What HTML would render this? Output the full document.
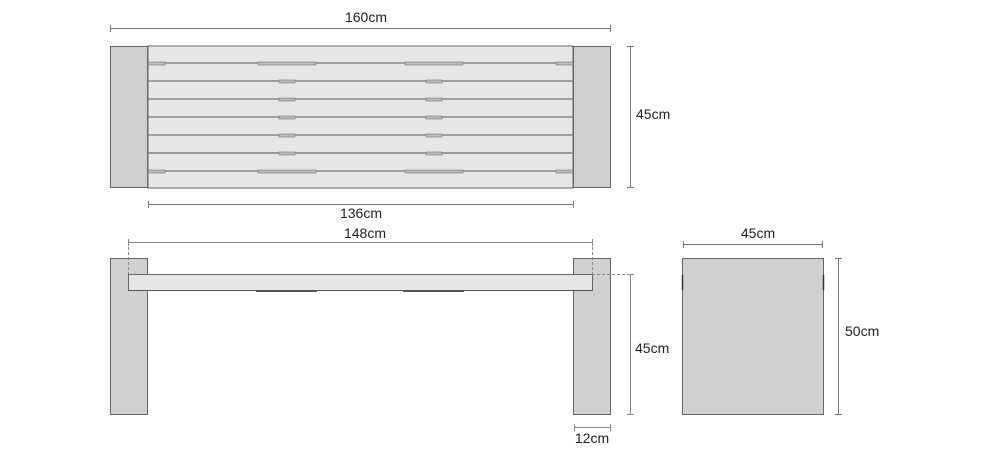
<!DOCTYPE html>
<html><head><style>html,body{margin:0;padding:0;background:#fff;}svg{display:block}</style></head>
<body>
<svg width="990" height="450" viewBox="0 0 990 450" xmlns="http://www.w3.org/2000/svg" font-family="Liberation Sans, Arial, sans-serif" font-size="14" fill="#222">
<!-- TOP VIEW -->
<rect x="148" y="46" width="425" height="142" fill="#e6e6e6" stroke="#666" stroke-width="1"/>
<g stroke="#777" stroke-width="1.2">
<line x1="148" y1="63" x2="573" y2="63"/>
<line x1="148" y1="81" x2="573" y2="81"/>
<line x1="148" y1="99" x2="573" y2="99"/>
<line x1="148" y1="117" x2="573" y2="117"/>
<line x1="148" y1="135" x2="573" y2="135"/>
<line x1="148" y1="153" x2="573" y2="153" stroke="#999" stroke-width="2"/>
<line x1="148" y1="171" x2="573" y2="171"/>
</g>
<g fill="#bbb" stroke="#777" stroke-width="0.6">
<rect x="258" y="62" width="58" height="3"/><rect x="405" y="62" width="58" height="3"/>
<rect x="258" y="170" width="58" height="3"/><rect x="405" y="170" width="58" height="3"/>
<rect x="148" y="62" width="17" height="3"/><rect x="556" y="62" width="17" height="3"/>
<rect x="148" y="170" width="17" height="3"/><rect x="556" y="170" width="17" height="3"/>
<rect x="279" y="80" width="16" height="3"/><rect x="426" y="80" width="16" height="3"/>
<rect x="279" y="98" width="16" height="3"/><rect x="426" y="98" width="16" height="3"/>
<rect x="279" y="116" width="16" height="3"/><rect x="426" y="116" width="16" height="3"/>
<rect x="279" y="134" width="16" height="3"/><rect x="426" y="134" width="16" height="3"/>
<rect x="279" y="152" width="16" height="3"/><rect x="426" y="152" width="16" height="3"/>
</g>
<rect x="110.5" y="46.5" width="37" height="141" fill="#d0d0d0" stroke="#666"/>
<rect x="573.5" y="46.5" width="37" height="141" fill="#d0d0d0" stroke="#666"/>
<!-- dims top -->
<g stroke="#777" stroke-width="1" fill="none">
<line x1="110" y1="28.5" x2="611" y2="28.5"/><line x1="110.5" y1="25" x2="110.5" y2="32"/><line x1="610.5" y1="25" x2="610.5" y2="32"/>
<line x1="630.5" y1="46" x2="630.5" y2="188"/><line x1="627" y1="46.5" x2="634" y2="46.5"/><line x1="627" y1="187.5" x2="634" y2="187.5"/>
<line x1="148" y1="204.5" x2="574" y2="204.5"/><line x1="148.5" y1="201" x2="148.5" y2="208"/><line x1="573.5" y1="201" x2="573.5" y2="208"/>
</g>
<text x="366" y="22" text-anchor="middle">160cm</text>
<text x="636" y="119">45cm</text>
<text x="361" y="218" text-anchor="middle">136cm</text>
<!-- FRONT VIEW -->
<rect x="110.5" y="258.5" width="37" height="156" fill="#d0d0d0" stroke="#666"/>
<rect x="573.5" y="258.5" width="37" height="156" fill="#d0d0d0" stroke="#666"/>
<rect x="128.5" y="274.5" width="464" height="16" fill="#e6e6e6" stroke="#666"/>
<line x1="128" y1="290.5" x2="592" y2="290.5" stroke="#555"/>
<rect x="256" y="290" width="61" height="2" fill="#555"/>
<rect x="403" y="290" width="61" height="2" fill="#555"/>
<g stroke="#888" stroke-width="1" fill="none">
<line x1="128.5" y1="242" x2="128.5" y2="274" stroke-dasharray="3,2"/>
<line x1="592.5" y1="242" x2="592.5" y2="274" stroke-dasharray="3,2"/>
<line x1="592" y1="274.5" x2="630" y2="274.5" stroke-dasharray="3,2"/>
<line x1="128" y1="242.5" x2="592" y2="242.5"/><line x1="128.5" y1="239" x2="128.5" y2="246"/><line x1="592.5" y1="239" x2="592.5" y2="246"/>
<line x1="630.5" y1="274" x2="630.5" y2="415"/><line x1="627" y1="274.5" x2="634" y2="274.5"/><line x1="627" y1="414.5" x2="634" y2="414.5"/>
<line x1="574" y1="427.5" x2="611" y2="427.5"/><line x1="574.5" y1="424" x2="574.5" y2="431"/><line x1="610.5" y1="424" x2="610.5" y2="431"/>
</g>
<text x="365" y="238" text-anchor="middle">148cm</text>
<text x="635" y="353">45cm</text>
<text x="592" y="443" text-anchor="middle">12cm</text>
<!-- END VIEW -->
<rect x="682.5" y="258.5" width="141" height="156" fill="#d0d0d0" stroke="#666"/>
<line x1="682.5" y1="275" x2="682.5" y2="290" stroke="#333" stroke-width="1.5"/>
<line x1="823.5" y1="275" x2="823.5" y2="290" stroke="#333" stroke-width="1.5"/>
<g stroke="#777" stroke-width="1" fill="none">
<line x1="683" y1="244.5" x2="823" y2="244.5"/><line x1="683.5" y1="241" x2="683.5" y2="248"/><line x1="822.5" y1="241" x2="822.5" y2="248"/>
<line x1="838.5" y1="258" x2="838.5" y2="415"/><line x1="835" y1="258.5" x2="842" y2="258.5"/><line x1="835" y1="414.5" x2="842" y2="414.5"/>
</g>
<text x="758" y="238" text-anchor="middle">45cm</text>
<text x="845" y="336">50cm</text>
</svg>
</body></html>
